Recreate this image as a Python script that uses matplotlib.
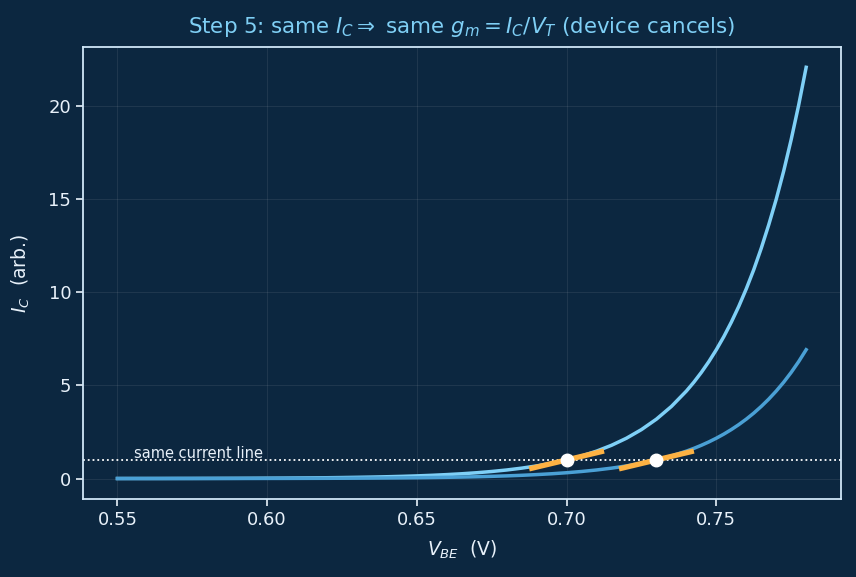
import matplotlib
matplotlib.use("Agg")
import matplotlib.pyplot as plt

# V_BE samples (V) and collector current (arb.)
vbe = [0.550, 0.555, 0.560, 0.565, 0.570, 0.575, 0.580, 0.585, 0.590, 0.595,
       0.600, 0.605, 0.610, 0.615, 0.620, 0.625, 0.630, 0.635, 0.640, 0.645,
       0.650, 0.655, 0.660, 0.665, 0.670, 0.675, 0.680, 0.685, 0.690, 0.695,
       0.700, 0.705, 0.710, 0.715, 0.720, 0.725, 0.730, 0.735, 0.740,
       0.7425, 0.745, 0.7475, 0.750, 0.7525, 0.755, 0.7575, 0.760, 0.7625,
       0.765, 0.7675, 0.770, 0.7725, 0.775, 0.7775, 0.780]
ic_small = [0.003, 0.004, 0.004, 0.005, 0.007, 0.008, 0.010, 0.012, 0.014, 0.017,
            0.021, 0.025, 0.031, 0.037, 0.045, 0.055, 0.067, 0.081, 0.098, 0.119,
            0.144, 0.175, 0.213, 0.258, 0.313, 0.380, 0.461, 0.560, 0.679, 0.824,
            1.000, 1.213, 1.473, 1.787, 2.168, 2.631, 3.192, 3.874, 4.700,
            5.177, 5.703, 6.282, 6.921, 7.623, 8.398, 9.250, 10.19, 11.22,
            12.37, 13.63, 15.00, 16.52, 18.21, 20.06, 22.09]
ic_large = [0.0009, 0.0011, 0.0014, 0.0017, 0.0020, 0.0025, 0.003, 0.004, 0.004, 0.005,
            0.007, 0.008, 0.010, 0.012, 0.014, 0.017, 0.021, 0.025, 0.031, 0.037,
            0.045, 0.055, 0.067, 0.081, 0.098, 0.119, 0.144, 0.175, 0.213, 0.258,
            0.313, 0.380, 0.461, 0.560, 0.679, 0.824, 1.000, 1.213, 1.473,
            1.622, 1.787, 1.968, 2.168, 2.388, 2.631, 2.898, 3.192, 3.516,
            3.874, 4.267, 4.700, 5.177, 5.703, 6.282, 6.921]

# operating points at the same current, and the tangent (g_m) segments
op_vbe = [0.700, 0.730]
op_ic = [1.0, 1.0]
tan_x = [[0.6875, 0.7125], [0.7175, 0.7425]]
tan_y = [[0.52, 1.48], [0.52, 1.48]]
same_ic = 1.0

bg = "#0c2740"
fg = "#e8f1fa"

fig = plt.figure(figsize=(8.56, 5.77), dpi=100, facecolor=bg)
ax = fig.add_axes([0.097, 0.135, 0.885, 0.784], facecolor=bg)

ax.plot(vbe, ic_small, color="#7fd0f7", lw=2.5, zorder=3)
ax.plot(vbe, ic_large, color="#4aa0d5", lw=2.5, zorder=3)
ax.axhline(same_ic, color="white", ls=":", lw=1.3, zorder=2)
ax.text(0.5555, same_ic + 0.1, "same current line", color=fg, fontsize=10.5,
        va="baseline", ha="left", zorder=4)

for tx, ty in zip(tan_x, tan_y):
    ax.plot(tx, ty, color="#fdb243", lw=3.8, solid_capstyle="butt", zorder=4)
ax.plot(op_vbe, op_ic, "o", color="white", ms=9, zorder=5)

ax.grid(True, color="#ffffff", alpha=0.08, lw=0.8)
ax.set_axisbelow(True)
for s in ax.spines.values():
    s.set_color("#cfe6f7")
    s.set_linewidth(1.3)
ax.tick_params(colors=fg, labelsize=13, labelcolor=fg, width=1.2, length=5)

ax.set_xlabel("$V_{BE}$  (V)", color=fg, fontsize=13.5, labelpad=7)
ax.set_ylabel("$I_C$  (arb.)", color=fg, fontsize=13.5, labelpad=12)
ax.set_title(r"Step 5: same $I_C \Rightarrow$ same $g_m = I_C/V_T$ (device cancels)",
             color="#7fcff5", fontsize=15.4, pad=10)

fig.savefig("out.png", dpi=100, facecolor=bg)
